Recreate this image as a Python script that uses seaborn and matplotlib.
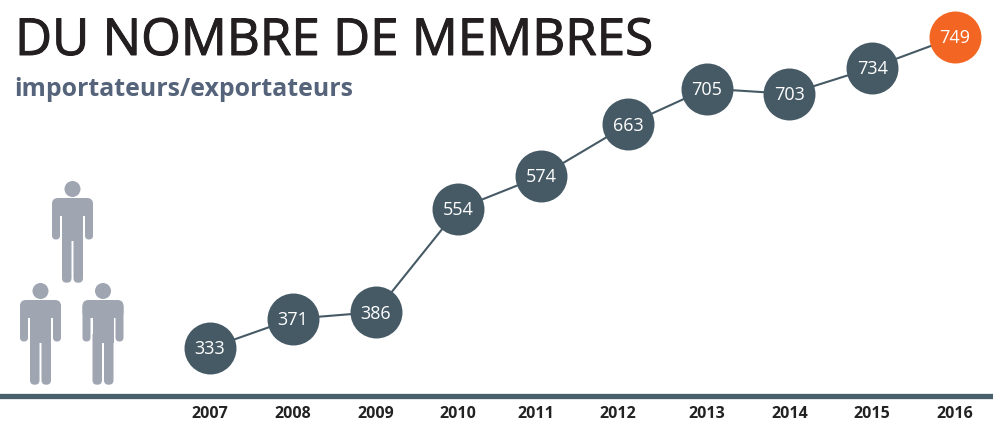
import numpy as np
import pandas as pd
import seaborn as sns
import matplotlib.pyplot as plt
import matplotlib.patheffects as pe
from matplotlib.patches import Circle, FancyBboxPatch

title = "DU NOMBRE DE MEMBRES"
subtitle = "importateurs/exportateurs"
years = [2007, 2008, 2009, 2010, 2011, 2012, 2013, 2014, 2015, 2016]
# printed numbers
members = [333, 371, 386, 554, 574, 663, 705, 703, 734, 749]
# height of each dot as drawn, the graphic is not to scale with the numbers
drawn_level = [333, 372, 381, 519, 563, 632, 680, 673, 708, 749]

DARK = "#465a66"
ORANGE = "#f26522"
GREY = "#9fa6b2"

# the 2011 and 2012 year labels and the 2012 dot sit a little off the regular grid
dot_shift = {2012: 0.05}
label_shift = {2011: -0.06, 2012: -0.07}

sns.set_theme(style="white")
plt.rcParams['font.family'] = ['Open Sans', 'DejaVu Sans']

df = pd.DataFrame({"year": years, "level": drawn_level, "members": members})
df["x"] = [y + dot_shift.get(y, 0) for y in years]

fig = plt.figure(figsize=(9.93, 4.24), dpi=100)
ax = fig.add_axes([0, 28 / 424, 1, 396 / 424])

sns.lineplot(data=df, x="x", y="level", color=DARK, lw=1.5, ax=ax, zorder=2)
sns.scatterplot(data=df.iloc[:-1], x="x", y="level", color=DARK, s=1400, linewidth=0, ax=ax, zorder=3, clip_on=False)
sns.scatterplot(data=df.iloc[-1:], x="x", y="level", color=ORANGE, s=1400, linewidth=0, ax=ax, zorder=3, clip_on=False)

for _, row in df.iterrows():
    ax.annotate(str(int(row["members"])), (row["x"], row["level"]), xytext=(0, -1), textcoords="offset points",
                color="white", fontsize=13, ha="center", va="center", zorder=4)

# axis scaled to the pixel layout
px_year = 82.78
px_unit = 0.7476
ax.set_xlim(2007 - 210 / px_year, 2016 + 38 / px_year)
ax.set_ylim(333 - 48 / px_unit, 749 + 37 / px_unit)
ax.set_xlabel("")
ax.set_ylabel("")
ax.set_yticks([])
ax.set_xticks([y + label_shift.get(y, 0) for y in years])
ax.set_xticklabels(years, fontsize=11.5, fontweight="bold", color="#222222")
ax.tick_params(axis="x", length=0, pad=7)
sns.despine(ax=ax, left=True, top=True, right=True)
ax.spines["bottom"].set_color("#4a5f6c")
ax.spines["bottom"].set_linewidth(3.8)
ax.patch.set_alpha(0)

title_text = fig.text(15 / 993, 1 - 55 / 424, title, fontsize=36.8, color="#231f20", va="baseline")
title_text.set_path_effects([pe.withStroke(linewidth=0.7, foreground="#231f20")])
fig.text(14 / 993, 1 - 96 / 424, subtitle, fontsize=17.9, fontweight="bold", color="#55647a", va="baseline")

# little people, on an overlay in pixels
icons = fig.add_axes([0, 0, 1, 1], zorder=-1)
icons.set_xlim(0, 993)
icons.set_ylim(424, 0)
icons.axis("off")


def rounded(x0, y0, x1, y1, r):
    icons.add_patch(FancyBboxPatch((x0, y0), x1 - x0, y1 - y0, boxstyle=f"round,pad=0,rounding_size={r}",
                                   fc=GREY, ec="none"))


def person(cx, hy):
    icons.add_patch(Circle((cx, hy), 8, fc=GREY, ec="none"))
    rounded(cx - 20.5, hy + 9, cx + 20.5, hy + 27, 6)
    rounded(cx - 20.5, hy + 12, cx - 12.5, hy + 50.5, 4)
    rounded(cx + 12.5, hy + 12, cx + 20.5, hy + 50.5, 4)
    icons.add_patch(plt.Rectangle((cx - 10.5, hy + 12), 21, 40, fc=GREY, ec="none"))
    rounded(cx - 10.5, hy + 40, cx - 1, hy + 93.7, 4.5)
    rounded(cx + 1, hy + 40, cx + 10.5, hy + 93.7, 4.5)


person(72.5, 189)
person(40.5, 291)
person(103, 291)

fig.savefig("out.png", dpi=100)
